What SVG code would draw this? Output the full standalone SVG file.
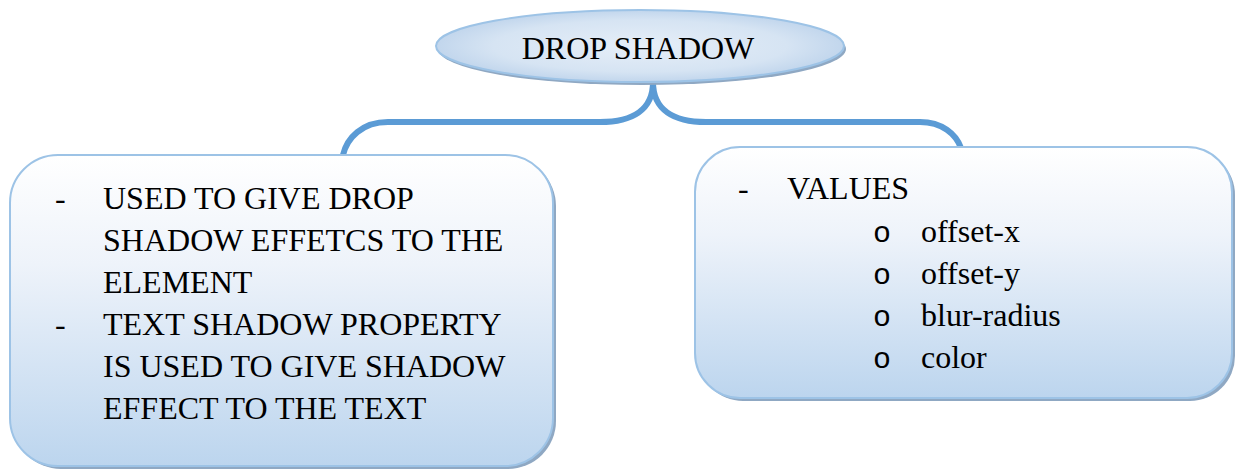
<svg xmlns="http://www.w3.org/2000/svg" width="1235" height="470" viewBox="0 0 1235 470">
<defs>
<linearGradient id="boxGrad" x1="0" y1="0" x2="0" y2="1">
<stop offset="0" stop-color="#ffffff"/>
<stop offset="0.35" stop-color="#eef3fa"/>
<stop offset="1" stop-color="#bcd5ee"/>
</linearGradient>
<radialGradient id="ellGrad" cx="0.5" cy="0.5" r="0.6">
<stop offset="0" stop-color="#e6eef8"/>
<stop offset="0.6" stop-color="#d6e4f3"/>
<stop offset="1" stop-color="#b3cce8"/>
</radialGradient>
<style>
.shadow{fill:#8fa8c3;}
.box{fill:url(#boxGrad);stroke:#9dc3e6;stroke-width:2;}
.ell{fill:url(#ellGrad);stroke:#9dc3e6;stroke-width:2;}
.conn{fill:none;stroke:#5b9bd5;stroke-width:6;}
.t{font-family:"Liberation Serif","DejaVu Serif",serif;font-size:32px;fill:#000;}
.b{font-family:"Liberation Mono","DejaVu Sans Mono",monospace;font-size:30px;fill:#000;}
</style>
</defs>
<rect width="1235" height="470" fill="#ffffff"/>
<g id="connectors">
<path class="conn" d="M653,82 C653,110 632,122 600,122 L388,122 C362,122 347,138 343,155"/>
<path class="conn" d="M653,82 C653,110 674,122 706,122 L920,122 C942,122 956,134 961,148"/>
</g>
<g id="node-title">
<ellipse class="shadow" cx="642" cy="49" rx="204" ry="36"/>
<ellipse class="ell" cx="640" cy="46" rx="204" ry="36"/>
<text class="t" x="638" y="59" text-anchor="middle">DROP SHADOW</text>
</g>
<g id="node-left">
<rect class="shadow" x="13" y="158" width="543" height="311" rx="48"/>
<rect class="box" x="10" y="155" width="543" height="311" rx="48"/>
<text class="t" x="55" y="209">-</text>
<text class="t" x="103" y="209">USED TO GIVE DROP</text>
<text class="t" x="103" y="251">SHADOW EFFETCS TO THE</text>
<text class="t" x="103" y="293">ELEMENT</text>
<text class="t" x="55" y="335">-</text>
<text class="t" x="103" y="335">TEXT SHADOW PROPERTY</text>
<text class="t" x="103" y="377">IS USED TO GIVE SHADOW</text>
<text class="t" x="103" y="419">EFFECT TO THE TEXT</text>
</g>
<g id="node-right">
<rect class="shadow" x="698" y="150" width="537" height="251" rx="45"/>
<rect class="box" x="695" y="147" width="537" height="251" rx="45"/>
<text class="t" x="738" y="199">-</text>
<text class="t" x="787" y="199">VALUES</text>
<text class="b" x="873" y="242">o</text>
<text class="t" x="921" y="242">offset-x</text>
<text class="b" x="873" y="284">o</text>
<text class="t" x="921" y="284">offset-y</text>
<text class="b" x="873" y="326">o</text>
<text class="t" x="921" y="326">blur-radius</text>
<text class="b" x="873" y="368">o</text>
<text class="t" x="921" y="368">color</text>
</g>
</svg>
